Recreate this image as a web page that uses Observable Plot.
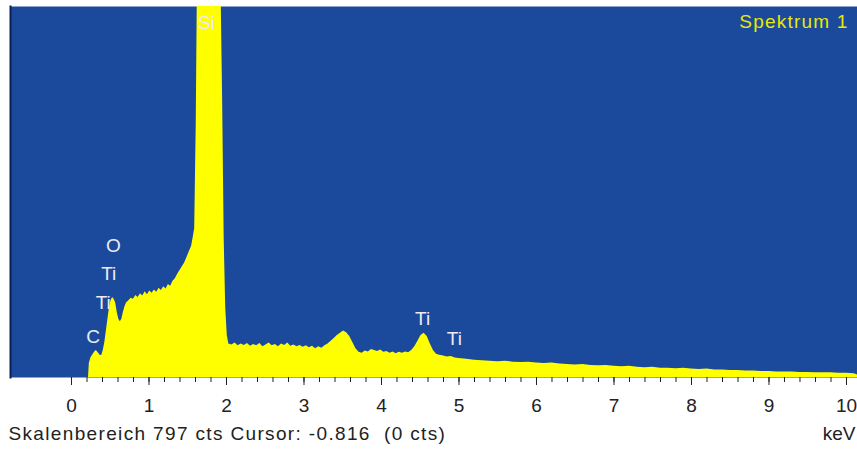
<!DOCTYPE html>
<html>
<head>
<meta charset="utf-8">
<script src="https://cdn.jsdelivr.net/npm/d3@7"></script>
<script src="https://cdn.jsdelivr.net/npm/@observablehq/plot@0.6"></script>
<style>
  html, body { margin: 0; padding: 0; background: #ffffff; }
  #chart svg { display: block; }
</style>
</head>
<body>
<div id="chart"></div>
<script>
// Spectrum: energy (keV) and counts (cts)
const keV = [0.22,0.23,0.25,0.28,0.30,0.32,0.35,0.37,0.39,0.41,0.43,0.45,0.47,0.49,0.51,0.53,0.55,0.57,0.59,0.61,0.63,0.65,0.67,0.69,0.71,0.74,0.77,0.80,0.83,0.86,0.89,0.92,0.95,0.98,1.01,1.04,1.07,1.10,1.13,1.16,1.19,1.22,1.25,1.28,1.31,1.34,1.37,1.40,1.43,1.46,1.49,1.52,1.55,1.57,1.59,1.61,1.63,1.92,1.95,1.97,1.99,2.01,2.03,2.07,2.11,2.15,2.19,2.23,2.27,2.31,2.35,2.39,2.43,2.47,2.51,2.55,2.59,2.63,2.67,2.71,2.75,2.79,2.83,2.87,2.91,2.95,2.99,3.03,3.07,3.11,3.15,3.19,3.23,3.27,3.31,3.35,3.39,3.43,3.47,3.51,3.55,3.59,3.63,3.67,3.71,3.75,3.79,3.83,3.87,3.91,3.95,3.99,4.03,4.07,4.11,4.15,4.19,4.23,4.27,4.31,4.35,4.39,4.43,4.47,4.51,4.55,4.59,4.63,4.67,4.71,4.75,4.80,4.85,4.90,4.95,5.00,5.10,5.20,5.30,5.40,5.50,5.60,5.70,5.80,5.90,6.00,6.10,6.20,6.30,6.40,6.50,6.60,6.70,6.80,6.90,7.00,7.10,7.20,7.30,7.40,7.50,7.60,7.70,7.80,7.90,8.00,8.10,8.20,8.30,8.40,8.50,8.60,8.70,8.80,8.90,9.00,9.10,9.20,9.30,9.40,9.50,9.60,9.70,9.80,9.90,10.00,10.10,10.16];
const cts = [0,30,42,50,55,58,52,48,47,58,75,100,125,150,165,172,168,160,140,125,120,125,140,152,160,165,170,168,176,172,180,175,184,178,186,181,188,183,192,187,195,190,200,196,207,212,222,230,238,246,258,270,282,300,320,550,950,950,600,300,150,90,72,70,74,68,72,69,73,67,71,68,73,66,70,74,68,71,66,72,69,74,67,70,66,69,65,68,64,67,62,66,63,68,72,78,84,90,95,100,96,88,75,62,54,52,57,55,60,58,56,59,54,56,52,55,51,54,52,55,53,58,66,78,90,95,88,72,58,50,48,46,44,45,42,41,39,37,36,35,34,35,33,32,33,31,30,31,29,28,27,28,26,25,26,24,23,24,22,21,22,20,20,19,20,18,17,18,16,16,15,15,14,14,13,13,12,12,12,11,11,10,10,10,9,9,8,4];

// Element labels: text, energy position (keV), count position (cts)
const labelText = ["Si", "O", "Ti", "Ti", "C", "Ti", "Ti"];
const labelKeV  = [1.74, 0.54, 0.48, 0.41, 0.28, 4.53, 4.94];
const labelCts  = [762, 282, 222, 160, 88, 126, 82];

// Axis ticks
const majorTicks = [0, 1, 2, 3, 4, 5, 6, 7, 8, 9, 10];
const minorTicks = [0,0.2,0.4,0.6,0.8,1,1.2,1.4,1.6,1.8,2,2.2,2.4,2.6,2.8,3,3.2,3.4,3.6,3.8,4,4.2,4.4,4.6,4.8,5,5.2,5.4,5.6,5.8,6,6.2,6.4,6.6,6.8,7,7.2,7.4,7.6,7.8,8,8.2,8.4,8.6,8.8,9,9.2,9.4,9.6,9.8,10];

const scaleRange = 797;
const spectrumName = "Spektrum 1";
const footerText = "Skalenbereich 797 cts Cursor: -0.816 \u00a0(0 cts)";
const unitText = "keV";

const spectrum = keV.map((e, i) => ({keV: e, cts: cts[i]}));
const labels = labelText.map((t, i) => ({text: t, keV: labelKeV[i], cts: labelCts[i]}));

const font = "'Liberation Sans', Arial, sans-serif";

const chart = Plot.plot({
  width: 857,
  height: 450,
  marginLeft: 10,
  marginRight: 0,
  marginTop: 6,
  marginBottom: 73,
  style: {fontFamily: font, background: "#ffffff", color: "#000000"},
  x: {domain: [-0.787, 10.142], label: null},
  y: {domain: [0, scaleRange], axis: null},
  marks: [
    Plot.frame({fill: "#1b4a9c"}),
    Plot.areaY(spectrum, {x: "keV", y: "cts", fill: "#ffff00", clip: true, curve: "linear"}),
    Plot.frame({anchor: "left", stroke: "#0b1e55", strokeWidth: 2}),
    Plot.axisX({ticks: minorTicks, tickSize: 5, tickFormat: () => "", label: null, stroke: "#222"}),
    Plot.axisX({ticks: majorTicks, tickSize: 8, tickPadding: 13, fontSize: 19, label: null, tickFormat: d3.format("d"), stroke: "#222", fill: "#222"}),
    Plot.text(labels, {x: "keV", y: "cts", text: "text", fill: "#ececf2", fontSize: 19, lineAnchor: "middle"}),
    Plot.text([spectrumName], {frameAnchor: "top-right", dx: -9, dy: 15, textAnchor: "end", lineAnchor: "middle", fill: "#e8e800", fontSize: 19}),
    Plot.text([footerText], {frameAnchor: "bottom-left", dx: -2, dy: 56, textAnchor: "start", lineAnchor: "middle", fill: "#222", fontSize: 19}),
    Plot.text([unitText], {frameAnchor: "bottom-right", dx: -2, dy: 56, textAnchor: "end", lineAnchor: "middle", fill: "#222", fontSize: 19})
  ]
});
chart.querySelectorAll("text").forEach((t) => {
  const s = t.textContent;
  if (s.startsWith("Skalen")) t.style.letterSpacing = "1.35px";
  if (s.startsWith("Spektrum")) t.style.letterSpacing = "1.2px";
});
document.getElementById("chart").appendChild(chart);
</script>
</body>
</html>
